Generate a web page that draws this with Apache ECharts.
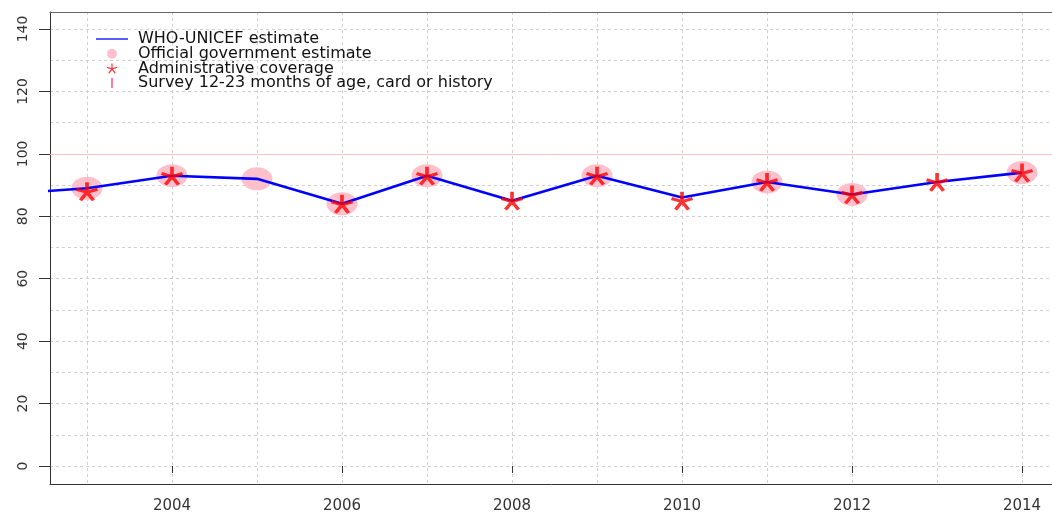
<!DOCTYPE html>
<html lang="en">
<head>
    <meta charset="UTF-8">
    <title>WHO-UNICEF coverage estimates</title>
    <script src="https://cdn.jsdelivr.net/npm/echarts@6/dist/echarts.min.js"></script>
    <style>
        body { margin: 0; background: #fff; overflow: hidden; }
        #chart { width: 1052px; height: 514px; }
    </style>
</head>
<body>
    <div id="chart"></div>
    <script>
        // data
        const years = [2002, 2003, 2004, 2005, 2006, 2007, 2008, 2009, 2010, 2011, 2012, 2013, 2014];
        const whoUnicef = [87, 89, 93, 92, 84, 93, 85, 93, 86, 91, 87, 91, 94];
        const officialGov = [null, 89, 93, 92, 84, 93, null, 93, null, 91, 87, null, 94];
        const adminCoverage = [null, 88, 93, null, 84, 93, 85, 93, 85, 91, 87, 91, 94];
        const surveyCoverage = [];
        const xTicks = [2004, 2006, 2008, 2010, 2012, 2014];
        const yTicks = [0, 20, 40, 60, 80, 100, 120, 140];
        const targetLine = 100;

        // plot runs a little past the right edge of the window, as in the original
        const X_MIN = 2002.565, X_MAX = 2014.47;
        const Y_MIN = -5.77, Y_MAX = 145.45;

        const pairs = vals => years.map((y, i) => [y, vals[i]]).filter(p => p[1] != null);

        const starPath = 'path://M0,0L0,-10M0,0L9.51,-3.09M0,0L5.88,8.09M0,0L-5.88,8.09M0,0L-9.51,-3.09';
        const barPath = 'path://M0,0L2,0L2,12L0,12Z';
        const linePath = 'path://M0,0L32,0L32,1.3L0,1.3Z';
        const font = 'DejaVu Sans';
        const gridLine = { show: true, lineStyle: { color: '#cfcfcf', type: [3, 3], width: 1 } };

        const chart = echarts.init(document.getElementById('chart'));

        chart.setOption({
            animation: false,
            grid: {
                left: 50, right: -10, top: 12, bottom: 30,
                outerBoundsMode: 'none'
            },
            legend: {
                orient: 'vertical',
                left: 91, top: 26,
                itemWidth: 32, itemHeight: 10, itemGap: -1.3,
                selectedMode: false,
                textStyle: { fontFamily: font, fontSize: 16, color: '#111', padding: [0, 0, 0, 5] },
                data: [
                    { name: 'WHO-UNICEF estimate', icon: linePath, itemStyle: { color: '#0000ff' } },
                    { name: 'Official government estimate', icon: 'circle', itemStyle: { color: 'pink' } },
                    { name: 'Administrative coverage', icon: starPath, itemStyle: { color: 'red', borderColor: 'red', borderWidth: 1.2 } },
                    { name: 'Survey 12-23 months of age, card or history', icon: barPath, itemStyle: { color: '#ff3b6b' } }
                ]
            },
            xAxis: [{
                type: 'value', min: X_MIN, max: X_MAX, splitNumber: 12,
                axisLine: { show: true, onZero: false, lineStyle: { color: '#333' } },
                axisTick: { show: false },
                axisLabel: { show: false },
                splitLine: gridLine
            }, {
                type: 'value', position: 'bottom', min: X_MIN, max: X_MAX,
                axisLine: { show: false },
                axisTick: { show: true, length: 7, customValues: xTicks, lineStyle: { color: '#333' } },
                axisLabel: { customValues: xTicks, formatter: v => String(v), margin: 15, fontFamily: font, fontSize: 15, color: '#333' },
                splitLine: { show: false }
            }, {
                // top frame line
                type: 'value', position: 'top', min: X_MIN, max: X_MAX,
                axisLine: { show: true, onZero: false, lineStyle: { color: '#666' } },
                axisTick: { show: false },
                axisLabel: { show: false },
                splitLine: { show: false }
            }],
            yAxis: [{
                type: 'value', min: Y_MIN, max: Y_MAX, splitNumber: 15,
                axisLine: { show: true, onZero: false, lineStyle: { color: '#333' } },
                axisTick: { show: false },
                axisLabel: { show: false },
                splitLine: gridLine
            }, {
                type: 'value', position: 'left', min: Y_MIN, max: Y_MAX,
                axisLine: { show: false },
                axisTick: { show: true, length: 11, customValues: yTicks, lineStyle: { color: '#333' } },
                axisLabel: { customValues: yTicks, rotate: 90, margin: 20, fontFamily: font, fontSize: 14, color: '#333' },
                splitLine: { show: false }
            }],
            series: [
                {
                    name: 'Official government estimate',
                    type: 'scatter',
                    z: 1,
                    symbol: 'circle',
                    symbolSize: [31, 23],
                    itemStyle: { color: 'pink', opacity: 1 },
                    data: pairs(officialGov)
                },
                {
                    name: 'WHO-UNICEF estimate',
                    type: 'line',
                    z: 2,
                    symbol: 'none',
                    lineStyle: { color: '#0000ff', width: 2.6 },
                    itemStyle: { color: '#0000ff' },
                    data: pairs(whoUnicef),
                    markLine: {
                        silent: true,
                        symbol: 'none',
                        label: { show: false },
                        lineStyle: { color: 'pink', type: 'solid', width: 1 },
                        data: [{ yAxis: targetLine }]
                    }
                },
                {
                    name: 'Administrative coverage',
                    type: 'scatter',
                    z: 3,
                    symbol: starPath,
                    symbolKeepAspect: false,
                    symbolSize: [21, 18],
                    itemStyle: { color: 'red', borderColor: 'red', borderWidth: 3.4 },
                    data: pairs(adminCoverage)
                },
                {
                    name: 'Survey 12-23 months of age, card or history',
                    type: 'scatter',
                    z: 3,
                    symbol: barPath,
                    itemStyle: { color: '#ff3b6b' },
                    data: surveyCoverage
                }
            ]
        });

        window.addEventListener('resize', () => chart.resize());
    </script>
</body>
</html>
